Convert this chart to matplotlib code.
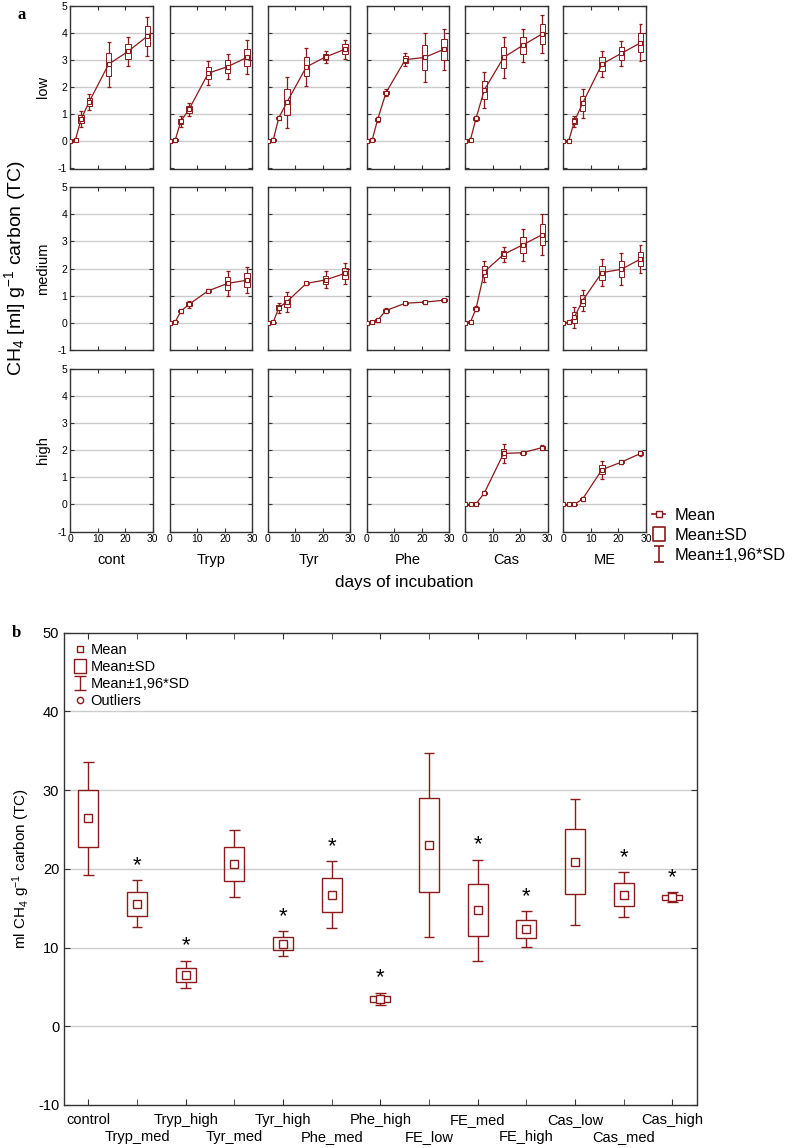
import numpy as np
import matplotlib
matplotlib.use("Agg")
import matplotlib.pyplot as plt
from matplotlib.patches import Rectangle
from matplotlib.lines import Line2D
from matplotlib.path import Path

plt.rcParams['font.family'] = ['Liberation Sans', 'DejaVu Sans']
plt.rcParams['mathtext.fontset'] = 'custom'
plt.rcParams['mathtext.rm'] = 'Liberation Sans'
plt.rcParams['mathtext.it'] = 'Liberation Sans:italic'
plt.rcParams['axes.unicode_minus'] = False

RED = '#8b1a1a'
GRID = '#cccccc'

# ---- panel a: cumulative CH4 over incubation (mean, SD) ----
days = [0, 2, 4, 7, 14, 21, 28]
treatments = ['cont', 'Tryp', 'Tyr', 'Phe', 'Cas', 'ME']
levels = ['low', 'medium', 'high']

cont_low = [0.0, 0.07, 0.82, 1.47, 2.85, 3.32, 3.88]
cont_low_sd = [0.01, 0.03, 0.15, 0.15, 0.42, 0.28, 0.37]
tryp_low = [0.0, 0.05, 0.74, 1.18, 2.52, 2.76, 3.10]
tryp_low_sd = [0.01, 0.03, 0.10, 0.12, 0.23, 0.23, 0.32]
tyr_low = [0.0, 0.05, 0.87, 1.45, 2.75, 3.12, 3.40]
tyr_low_sd = [0.01, 0.03, 0.04, 0.48, 0.35, 0.11, 0.18]
phe_low = [0.0, 0.06, 0.82, 1.80, 3.02, 3.10, 3.40]
phe_low_sd = [0.01, 0.03, 0.05, 0.06, 0.12, 0.47, 0.38]
cas_low = [0.0, 0.07, 0.85, 1.90, 3.10, 3.55, 3.97]
cas_low_sd = [0.01, 0.03, 0.05, 0.34, 0.39, 0.31, 0.36]
me_low = [0.0, 0.03, 0.74, 1.41, 2.85, 3.25, 3.64]
me_low_sd = [0.01, 0.03, 0.11, 0.27, 0.25, 0.23, 0.35]

tryp_med = [0.0, 0.03, 0.42, 0.68, 1.18, 1.45, 1.57]
tryp_med_sd = [0.01, 0.02, 0.04, 0.07, 0.03, 0.23, 0.25]
tyr_med = [0.0, 0.02, 0.55, 0.78, 1.45, 1.58, 1.82]
tyr_med_sd = [0.01, 0.02, 0.09, 0.19, 0.02, 0.16, 0.20]
phe_med = [0.0, 0.03, 0.10, 0.45, 0.72, 0.76, 0.83]
phe_med_sd = [0.01, 0.02, 0.02, 0.04, 0.03, 0.03, 0.03]
cas_med = [0.0, 0.03, 0.52, 1.88, 2.52, 2.88, 3.25]
cas_med_sd = [0.01, 0.02, 0.05, 0.20, 0.14, 0.30, 0.39]
me_med = [0.0, 0.02, 0.20, 0.82, 1.85, 1.97, 2.35]
me_med_sd = [0.01, 0.02, 0.20, 0.20, 0.26, 0.30, 0.26]

cas_high = [0.0, 0.0, 0.02, 0.42, 1.88, 1.91, 2.10]
cas_high_sd = [0.01, 0.01, 0.02, 0.03, 0.18, 0.03, 0.04]
me_high = [0.0, 0.0, 0.0, 0.20, 1.28, 1.56, 1.88]
me_high_sd = [0.01, 0.01, 0.01, 0.03, 0.17, 0.04, 0.04]

panels = {
    ('cont', 'low'): (cont_low, cont_low_sd),
    ('Tryp', 'low'): (tryp_low, tryp_low_sd),
    ('Tyr', 'low'): (tyr_low, tyr_low_sd),
    ('Phe', 'low'): (phe_low, phe_low_sd),
    ('Cas', 'low'): (cas_low, cas_low_sd),
    ('ME', 'low'): (me_low, me_low_sd),
    ('Tryp', 'medium'): (tryp_med, tryp_med_sd),
    ('Tyr', 'medium'): (tyr_med, tyr_med_sd),
    ('Phe', 'medium'): (phe_med, phe_med_sd),
    ('Cas', 'medium'): (cas_med, cas_med_sd),
    ('ME', 'medium'): (me_med, me_med_sd),
    ('Cas', 'high'): (cas_high, cas_high_sd),
    ('ME', 'high'): (me_high, me_high_sd),
}

# ---- panel b: total CH4 per treatment ----
groups = ['control', 'Tryp_med', 'Tryp_high', 'Tyr_med', 'Tyr_high', 'Phe_med',
          'Phe_high', 'FE_low', 'FE_med', 'FE_high', 'Cas_low', 'Cas_med', 'Cas_high']
total_mean = [26.4, 15.55, 6.57, 20.64, 10.5, 16.74, 3.47, 23.0, 14.75, 12.33, 20.9, 16.74, 16.4]
total_sd = [3.65, 1.52, 0.89, 2.16, 0.79, 2.16, 0.40, 5.95, 3.27, 1.15, 4.1, 1.45, 0.33]
signif = [False, True, True, False, True, True, True, False, True, True, False, True, True]


def box_whisker(ax, x, m, s, bw, cw, lw_box, lw_wh):
    ax.add_patch(Rectangle((x - bw / 2, m - s), bw, 2 * s, fill=False,
                           ec=RED, lw=lw_box, zorder=3))
    lo, hi = m - 1.96 * s, m + 1.96 * s
    ax.vlines([x, x], [lo, m + s], [m - s, hi], colors=RED, lw=lw_wh, zorder=3)
    ax.hlines([lo, hi], x - cw / 2, x + cw / 2, colors=RED, lw=lw_wh, zorder=3)


def whisker_marker(wx):
    return Path([(-wx, 0.5), (wx, 0.5), (0, 0.5), (0, -0.5), (-wx, -0.5), (wx, -0.5)],
                [Path.MOVETO, Path.LINETO, Path.MOVETO, Path.LINETO, Path.MOVETO, Path.LINETO])


def rect_marker(wx):
    return Path([(-wx, -0.5), (wx, -0.5), (wx, 0.5), (-wx, 0.5), (-wx, -0.5)],
                [Path.MOVETO, Path.LINETO, Path.LINETO, Path.LINETO, Path.CLOSEPOLY])


W, H = 797, 1148
fig = plt.figure(figsize=(W / 100, H / 100), dpi=100)

col_left = [70, 169.7, 267.7, 366.7, 465, 563.3]
row_top = [6, 187.3, 369]
aw, ah = 82.7, 162.5

for r, lev in enumerate(levels):
    for c, tr in enumerate(treatments):
        ax = fig.add_axes([col_left[c] / W, 1 - (row_top[r] + ah) / H, aw / W, ah / H])
        ax.set_xlim(0, 30)
        ax.set_ylim(-1, 5)
        ax.set_yticks(range(-1, 6))
        ax.set_xticks([0, 10, 20, 30])
        for g in range(0, 5):
            ax.axhline(g, color=GRID, lw=1.0, zorder=1)
        ax.tick_params(direction='in', top=True, right=True, length=3,
                       labelsize=7.5, pad=2, color='#333333')
        for sp in ax.spines.values():
            sp.set_color('#333333')
            sp.set_linewidth(1.0)
        if c != 0:
            ax.set_yticklabels([])
        if r != 2:
            ax.set_xticklabels([])
        if c == 0:
            ax.set_ylabel(lev, fontsize=10.5, va='center')
            ax.yaxis.set_label_coords(-0.33, 0.5)
        if r == 2:
            ax.set_xlabel(tr, fontsize=10.5, labelpad=6)
        if (tr, lev) in panels:
            mean, sd = panels[(tr, lev)]
            for d, m, s in zip(days, mean, sd):
                box_whisker(ax, d, m, s, 1.9, 1.4, 0.7, 0.9)
            ax.plot(days, mean, '-s', color=RED, lw=0.9, ms=3.2, mfc='white',
                    mec=RED, mew=0.8, zorder=4, clip_on=True)

fig.text(17 / W, 1 - 15 / H, 'a', fontsize=12, fontweight='bold', family='Liberation Serif',
         ha='left', va='center')
fig.text(15 / W, 1 - 268 / H, r'CH$_4$ [ml] g$^{-1}$ carbon (TC)', rotation=90,
         fontsize=14, ha='center', va='center')
fig.text(404 / W, 1 - 583 / H, 'days of incubation', fontsize=12.3, ha='center', va='center')

h_mean = Line2D([], [], color=RED, marker='s', ms=4.5, mfc='white', mec=RED, mew=1.0, lw=1.2)
h_box = Line2D([], [], color=RED, marker=rect_marker(0.43), ms=10, mfc='none', mec=RED,
               mew=1.2, ls='none')
h_wh = Line2D([], [], color=RED, marker=whisker_marker(0.3), ms=12, mfc='none', mec=RED,
              mew=1.2, ls='none')
fig.legend([h_mean, h_box, h_wh], ['Mean', 'Mean±SD', 'Mean±1,96*SD'],
           loc='upper left', bbox_to_anchor=(652 / W, 1 - 508 / H), frameon=False,
           fontsize=11.8, handlelength=0.8, handletextpad=0.6, labelspacing=0.3,
           borderaxespad=0, borderpad=0)

# ---- panel b ----
bx = fig.add_axes([64 / W, 1 - 1105 / H, (696.7 - 64) / W, (1105 - 632.7) / H])
xs = np.arange(len(groups))
bx.set_xlim(-0.5, len(groups) - 0.5)
bx.set_ylim(-10, 50)
bx.set_yticks(range(-10, 51, 10))
for g in range(0, 50, 10):
    bx.axhline(g, color=GRID, lw=1.0, zorder=1)
for x, m, s, sig in zip(xs, total_mean, total_sd, signif):
    box_whisker(bx, x, m, s, 0.41, 0.22, 1.0, 1.0)
    if sig:
        bx.annotate('*', (x, m + 1.96 * s), xytext=(0, 3), textcoords='offset points',
                    ha='center', va='bottom', fontsize=16)
bx.plot(xs, total_mean, 's', color=RED, ms=5.5, mfc='white', mec=RED, mew=1.0, zorder=4)
bx.set_xticks(xs[::2])
bx.set_xticklabels(groups[::2])
bx.set_xticks(xs[1::2], minor=True)
bx.set_xticklabels(groups[1::2], minor=True)
bx.tick_params(which='both', direction='in', top=True, right=True, length=4,
               labelsize=10.5, color='#333333')
bx.tick_params(axis='x', which='major', pad=6)
bx.tick_params(axis='x', which='minor', pad=18)
for sp in bx.spines.values():
    sp.set_color('#333333')
    sp.set_linewidth(1.0)
bx.set_ylabel(r'ml CH$_4$ g$^{-1}$ carbon (TC)', fontsize=11, labelpad=4)

h_mean_b = Line2D([], [], color=RED, marker='s', ms=4.8, mfc='white', mec=RED, mew=1.0, ls='none')
h_box_b = Line2D([], [], color=RED, marker=rect_marker(0.45), ms=9.5, mfc='none', mec=RED,
                 mew=1.0, ls='none')
h_wh_b = Line2D([], [], color=RED, marker=whisker_marker(0.43), ms=10, mfc='none', mec=RED,
                mew=1.0, ls='none')
h_out_b = Line2D([], [], color=RED, marker='o', ms=4.5, mfc='white', mec=RED, mew=1.0, ls='none')
bx.legend([h_mean_b, h_box_b, h_wh_b, h_out_b], ['Mean', 'Mean±SD', 'Mean±1,96*SD', 'Outliers'],
          loc='upper left', frameon=False, fontsize=10.5, handlelength=0.8,
          handletextpad=0.3, labelspacing=0.2, borderaxespad=0.3)

fig.text(12 / W, 1 - 633 / H, 'b', fontsize=12, fontweight='bold', family='Liberation Serif',
         ha='left', va='center')

fig.savefig('out.png', dpi=100)
